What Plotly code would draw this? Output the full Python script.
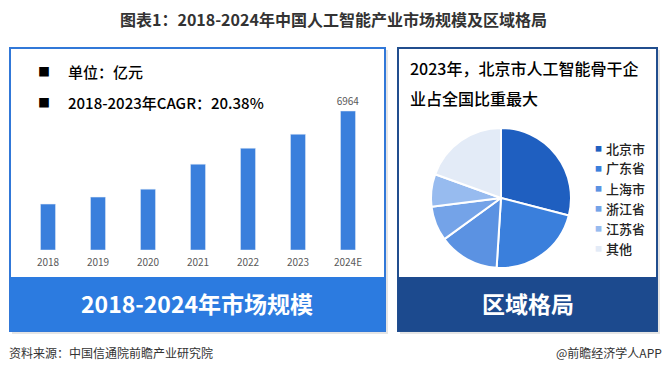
import plotly.graph_objects as go

W, H = 667, 375

# ---- data ----
years = ["2018", "2019", "2020", "2021", "2022", "2023", "2024E"]
market_size = [2300, 2650, 3050, 4300, 5100, 5800, 6964]
bar_labels = ["", "", "", "", "", "", "6964"]

regions = ["北京市", "广东省", "上海市", "浙江省", "江苏省", "其他"]
region_share = [29.0, 22.0, 14.0, 8.0, 7.5, 19.5]
region_colors = ["#1f5fc0", "#3a7fdc", "#5b92e2", "#74a3e8", "#97bbef", "#e3ebf7"]

FONT = "Noto Sans CJK SC"

def px(x):
    return x / W

def py(y):
    return 1 - y / H

fig = go.Figure()

fig.add_trace(go.Bar(
    x=years, y=market_size, text=bar_labels, textposition="outside",
    constraintext="none",
    textfont=dict(size=10, color="#595959", family=FONT),
    marker=dict(color="#3a7fdc"), width=0.3, cliponaxis=False,
    xaxis="x", yaxis="y", showlegend=False, hoverinfo="skip",
))

fig.add_trace(go.Pie(
    labels=regions, values=region_share, sort=False, direction="clockwise",
    rotation=0, marker=dict(colors=region_colors, line=dict(color="white", width=2)),
    textinfo="none", showlegend=False,
    domain=dict(x=[px(431), px(571)], y=[py(268), py(128)]),
))

shapes = []
def rect(x0, y0, x1, y1, fill=None, line=None, lw=0, layer="below"):
    shapes.append(dict(type="rect", xref="paper", yref="paper",
                       x0=px(x0), x1=px(x1), y0=py(y1), y1=py(y0),
                       fillcolor=fill or "rgba(0,0,0,0)",
                       line=dict(color=line or "rgba(0,0,0,0)", width=lw), layer=layer))

# shadows
rect(12, 50, 388, 334, fill="rgba(0,0,0,0.10)")
rect(400, 50, 660, 334, fill="rgba(0,0,0,0.10)")
# panels
rect(10, 48, 385, 331, fill="white", line="#3178d8", lw=2)
rect(398, 48, 657, 331, fill="white", line="#214e8e", lw=2)
# banners
rect(10, 277, 385, 331, fill="#2c7be0")
rect(398, 277, 657, 331, fill="#1c4a8e")

ann = []
def text(x, y, s, size, color="#222", xanchor="left", bold=False, weight=None):
    f = dict(size=size, color=color, family=FONT)
    if weight:
        f["weight"] = weight
    ann.append(dict(x=px(x), y=py(y), xref="paper", yref="paper", text=("<b>%s</b>" % s) if bold else s,
                    showarrow=False, xanchor=xanchor, yanchor="middle", font=f))

text(333, 19, "图表1：2018-2024年中国人工智能产业市场规模及区域格局", 16, "#333333", "center", True)
text(36, 72, "■", 12, "#000")
text(66, 72, "单位：亿元", 15, "#000", weight=500)
text(36, 102, "■", 12, "#000")
text(66, 102, "2018-2023年CAGR：20.38%", 15, "#000", weight=500)

text(408, 68, "2023年，北京市人工智能骨干企", 16, "#000", weight=500)
text(408, 98, "业占全国比重最大", 16, "#000", weight=500)

for i, (lab, col) in enumerate(zip(regions, region_colors)):
    yy = 148 + 20 * i
    text(593, yy, "■", 7, col)
    text(604, yy, lab, 13, "#222", weight=500)

text(197, 303, "2018-2024年市场规模", 23, "white", "center", True)
text(528, 303, "区域格局", 23, "white", "center", True)

text(7, 352, "资料来源：中国信通院前瞻产业研究院", 12, "#333")
text(664, 352, "@前瞻经济学人APP", 12, "#333", "right")

fig.update_layout(
    width=W, height=H, margin=dict(l=0, r=0, t=0, b=0),
    paper_bgcolor="white", plot_bgcolor="rgba(0,0,0,0)",
    shapes=shapes, annotations=ann, bargap=0.7,
    font=dict(family=FONT),
    xaxis=dict(domain=[px(23), px(373)], showgrid=False, zeroline=False, showline=False,
               tickfont=dict(size=10, color="#595959", family=FONT), ticks="",
               ticklabelstandoff=5, fixedrange=True),
    yaxis=dict(domain=[py(250), py(110.3)], range=[0, 7000], showgrid=False, zeroline=False,
               showticklabels=False, showline=False, fixedrange=True),
)

fig.write_html("out.html", config=dict(displayModeBar=False),
               post_script="document.body.style.margin='0';")
